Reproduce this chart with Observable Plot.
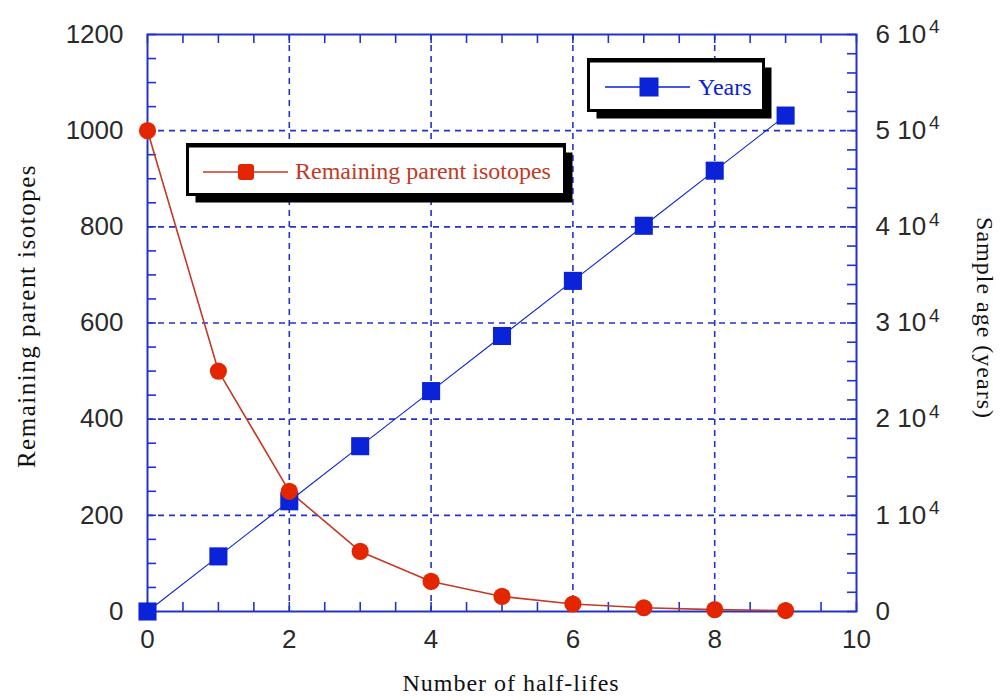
<!DOCTYPE html>
<html><head><meta charset="utf-8">
<script src="https://cdn.jsdelivr.net/npm/d3@7"></script>
<script src="https://cdn.jsdelivr.net/npm/@observablehq/plot@0.6"></script>
<style>
body{margin:0;background:#fff}
#chart svg{display:block}
</style>
</head><body><div id="chart"></div>
<script>
// ---- data ----
const halfLifes = [0, 1, 2, 3, 4, 5, 6, 7, 8, 9];
const remaining = [1000, 500, 250, 125, 62.5, 31.3, 15.6, 7.8, 3.9, 2.0];
const years = [0, 5730, 11460, 17190, 22920, 28650, 34380, 40110, 45840, 51570];

const xTicks = [0, 2, 4, 6, 8, 10];
const xGrid = [2, 4, 6, 8];
const yTicks = [0, 200, 400, 600, 800, 1000, 1200];
const yGrid = [200, 400, 600, 800, 1000];
const rightTickLabels = ["0", "1 10", "2 10", "3 10", "4 10", "5 10", "6 10"];
const xMinor = d3.range(0, 10.01, 0.5);
const yMinorLeft = d3.range(0, 1201, 50);
const yMinorRight = d3.range(0, 1201, 40); // 2000-year steps on the right axis (60000 ↔ 1200)

const YEARS_PER_UNIT = 50; // right axis 0–60000 aligned with left 0–1200

const redData = halfLifes.map((n, i) => ({n, v: remaining[i]}));
const blueData = halfLifes.map((n, i) => ({n, v: years[i] / YEARS_PER_UNIT}));

const BLUE = "#2234c8";
const BLUE_SERIES = "#0a22d8";
const RED_LINE = "#c23a26";
const RED_DOT = "#e42600";
const SERIF = "Liberation Serif, Times New Roman, serif";

const W = 1001, H = 700, ML = 147, MR = 145, MT = 34, MB = 89;
const FW = W - ML - MR, FH = H - MT - MB;
const T = 9;

const chart = Plot.plot({
  width: W, height: H,
  marginLeft: ML, marginRight: MR, marginTop: MT, marginBottom: MB,
  style: {fontFamily: "Liberation Sans, Arial, sans-serif", fontSize: "26px", color: "#222", background: "#fff"},
  x: {domain: [0, 10]},
  y: {domain: [0, 1200]},
  marks: [
    Plot.ruleX(xGrid, {x: d => d, stroke: BLUE, strokeWidth: 1.6, strokeDasharray: "6,5"}),
    Plot.ruleY(yGrid, {y: d => d, stroke: BLUE, strokeWidth: 1.6, strokeDasharray: "6,5"}),
    Plot.tickX(xMinor, {x: d => d, insetTop: FH - T, stroke: BLUE, strokeWidth: 1.6}),
    Plot.tickX(xMinor, {x: d => d, insetBottom: FH - T, stroke: BLUE, strokeWidth: 1.6}),
    Plot.tickY(yMinorLeft, {y: d => d, insetRight: FW - T, stroke: BLUE, strokeWidth: 1.6}),
    Plot.tickY(yMinorRight, {y: d => d, insetLeft: FW - T, stroke: BLUE, strokeWidth: 1.6}),
    Plot.frame({stroke: BLUE, strokeWidth: 2}),
    Plot.axisX({ticks: xTicks, tickSize: 0, tickPadding: 18, label: null, fill: "#2a2a2a", tickFormat: d => String(d)}),
    Plot.axisY({anchor: "left", ticks: yTicks, tickSize: 0, tickPadding: 24, label: null, fill: "#2a2a2a", tickFormat: d => String(d)}),
    Plot.axisY({anchor: "right", ticks: yTicks, tickSize: 0, tickPadding: 19, label: null, fill: "#2a2a2a",
      tickFormat: d => rightTickLabels[yTicks.indexOf(d)]}),
    Plot.line(blueData, {x: "n", y: "v", stroke: BLUE_SERIES, strokeWidth: 1.1}),
    Plot.line(redData, {x: "n", y: "v", stroke: RED_LINE, strokeWidth: 1.6}),
    Plot.dot(blueData, {x: "n", y: "v", symbol: "square", r: 10.2, fill: BLUE_SERIES, stroke: "none"}),
    Plot.dot(redData, {x: "n", y: "v", r: 8.6, fill: RED_DOT, stroke: "none"}),
    Plot.text(["Number of half-lifes"], {frameAnchor: "bottom", dy: 79, dx: 9, text: d => d, textAnchor: "middle",
      fontFamily: SERIF, fontSize: 24, fill: "#111"}),
    Plot.text(["Remaining parent isotopes"], {frameAnchor: "left", dx: -121, dy: -7, rotate: -90, text: d => d,
      textAnchor: "middle", fontFamily: SERIF, fontSize: 25, fill: "#111"}),
    Plot.text(["Sample age (years)"], {frameAnchor: "right", dx: 128, dy: -5, rotate: 90, text: d => d,
      textAnchor: "middle", fontFamily: SERIF, fontSize: 24, fill: "#111"})
  ]
});

document.getElementById("chart").appendChild(chart);
const svg = d3.select(chart);

// letter spacing for serif titles
svg.selectAll("text").filter(function(){ return this.textContent === "Number of half-lifes"; }).attr("letter-spacing", "1px");
svg.selectAll("text").filter(function(){ return this.textContent === "Remaining parent isotopes"; }).attr("letter-spacing", "1.5px");
svg.selectAll("text").filter(function(){ return this.textContent === "Sample age (years)"; }).attr("letter-spacing", "1px");

// superscript exponents on right axis
svg.selectAll("text").filter(function(){ return /^\d 10$/.test(this.textContent); })
  .each(function(){
    d3.select(this).append("tspan").attr("dy", "-0.5em").attr("dx", "3").attr("font-size", "19px").text("4");
  });

// legends
function legend(box, color, label, marker) {
  const g = svg.append("g");
  g.append("rect").attr("x", box.x + 8).attr("y", box.y + 8).attr("width", box.w).attr("height", box.h).attr("fill", "#000");
  g.append("rect").attr("x", box.x).attr("y", box.y).attr("width", box.w).attr("height", box.h)
    .attr("fill", "#fff").attr("stroke", "#000").attr("stroke-width", 3);
  g.append("rect").attr("x", box.x).attr("y", box.y - 1).attr("width", box.w).attr("height", 4).attr("fill", "#000");
  g.append("line").attr("x1", box.lx1).attr("x2", box.lx2).attr("y1", box.ly).attr("y2", box.ly)
    .attr("stroke", color).attr("stroke-width", 1.5);
  g.append("rect").attr("x", box.mx - marker / 2).attr("y", box.ly - marker / 2).attr("width", marker).attr("height", marker)
    .attr("rx", box.rx).attr("fill", color === RED_LINE ? RED_DOT : color);
  g.append("text").attr("x", box.tx).attr("y", box.ty).attr("fill", color).attr("text-anchor", "start")
    .attr("font-family", SERIF).attr("font-size", 24).attr("letter-spacing", box.ls)
    .text(label);
}
legend({x: 187.5, y: 144.5, w: 377, h: 50, lx1: 203, lx2: 288, ly: 172, mx: 246, rx: 3, tx: 295, ty: 179, ls: "0px"},
  RED_LINE, "Remaining parent isotopes", 16);
legend({x: 588.5, y: 59.5, w: 175, h: 51, lx1: 605, lx2: 690, ly: 87, mx: 649, rx: 0, tx: 698, ty: 95, ls: "0px"},
  BLUE_SERIES, "Years", 19);
</script></body></html>
